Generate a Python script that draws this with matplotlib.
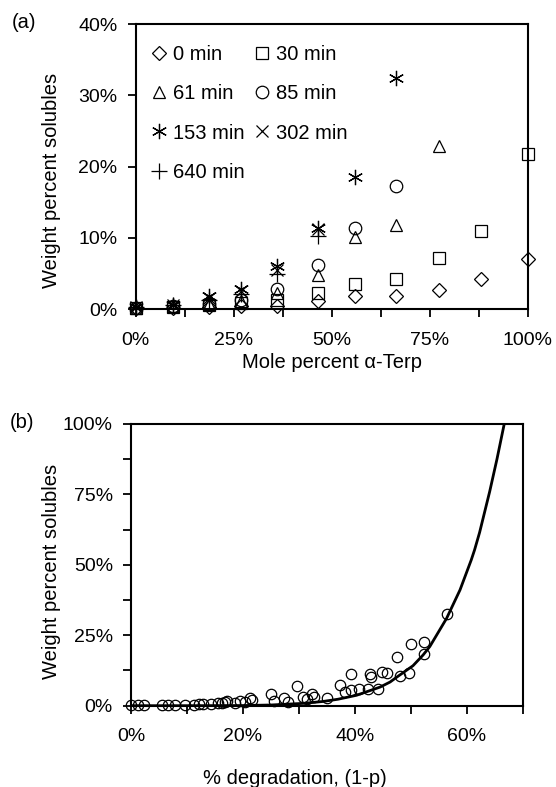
import numpy as np
import matplotlib
matplotlib.use('Agg')
import matplotlib.pyplot as plt

plt.rcParams['font.family'] = ['Liberation Sans', 'DejaVu Sans']
plt.rcParams['font.size'] = 14

# panel (a): weight percent solubles vs mole percent a-Terp, one series per time
terp = [0, 9.6, 18.8, 27.0, 36.0, 46.4, 56.0, 66.3, 77.3, 88.0, 100]
sol_0 = [0.2, 0.2, 0.3, 0.4, 0.5, 1.1, 1.9, 1.8, 2.7, 4.2, 7.05]
sol_30 = [0.2, 0.3, 0.6, 0.9, 1.3, 2.3, 3.5, 4.3, 7.2, 11.0, 21.8]
sol_61 = [0.2, 0.4, 0.7, 1.2, 2.3, 4.8, 10.1, 11.8, 22.9]
sol_85 = [0.2, 0.4, 0.8, 1.3, 2.9, 6.2, 11.4, 17.3]
sol_153 = [0.3, 0.6, 1.8, 2.9, 6.1, 11.4, 18.5, 32.4]
sol_302 = [0.3, 0.6, 1.6, 2.5, 5.5, 11.2]
sol_640 = [0.3, 0.6, 1.3, 2.2, 5.0, 10.3]

# panel (b): all points vs degradation, plus the fitted curve
deg = [0, 1.2, 2.4, 5.6, 6.6, 7.9, 9.6, 11.3, 12.1, 12.9, 14.3, 15.6, 16.2, 16.8, 17.1,
       18.6, 19.5, 20.4, 21.2, 21.6, 25.1, 25.5, 27.4, 28.1, 29.6, 30.8, 31.4, 32.3,
       32.7, 35.1, 37.3, 38.3, 39.3, 39.4, 40.8, 42.4, 42.7, 42.9, 44.2, 44.9, 45.8,
       47.6, 48.0, 49.7, 50.0, 52.4, 52.4, 56.4]
sol_all = [0.3, 0.3, 0.3, 0.3, 0.3, 0.3, 0.4, 0.4, 0.5, 0.6, 0.5, 0.8, 1.0, 1.2, 1.8,
           1.0, 1.8, 1.2, 2.6, 2.0, 4.2, 1.6, 2.6, 1.2, 7.1, 3.2, 2.4, 4.2,
           3.2, 2.9, 7.2, 4.9, 11.1, 5.7, 6.1, 6.1, 11.1, 10.3, 5.9, 12.0, 11.7,
           17.4, 10.6, 11.5, 21.8, 22.7, 18.3, 32.4]
curve_x = [0, 10, 20, 25, 31, 34.3, 37, 40.3, 44.5, 46.3, 47.4, 50.4, 52.2, 53.4, 56.4,
           58.8, 60.8, 61.4, 62.3, 64.1, 65.4, 66.7]
curve_y = [0, 0, 0.05, 0.25, 0.85, 1.5, 2.3, 3.7, 6.6, 8.4, 10.0, 14.2, 18.0, 21.0, 31.0,
           41.1, 51.7, 55.3, 61.5, 76.0, 87.5, 100]

fig = plt.figure(figsize=(5.56, 7.87), dpi=100)
ax1 = fig.add_axes([0.244, 0.607, 0.705, 0.3625])
ax2 = fig.add_axes([0.2356, 0.1033, 0.7045, 0.358])

open_kw = dict(linestyle='none', markerfacecolor='none', markeredgecolor='black',
               color='black', markeredgewidth=0.9, clip_on=False)

h0, = ax1.plot(terp, sol_0, marker='D', markersize=7, label='0 min', **open_kw)
h30, = ax1.plot(terp, sol_30, marker='s', markersize=9, label='30 min', **open_kw)
h61, = ax1.plot(terp[:len(sol_61)], sol_61, marker='^', markersize=9, label='61 min', **open_kw)
h85, = ax1.plot(terp[:len(sol_85)], sol_85, marker='o', markersize=9, label='85 min', **open_kw)
h153, = ax1.plot(terp[:len(sol_153)], sol_153, marker=(6, 2, 0), markersize=11, label='153 min', **open_kw)
h302, = ax1.plot(terp[:len(sol_302)], sol_302, marker='x', markersize=9, label='302 min', **open_kw)
h640, = ax1.plot(terp[:len(sol_640)], sol_640, marker='+', markersize=11, label='640 min', **open_kw)

handles = [h0, h61, h153, h640, h30, h85, h302]
ax1.legend(handles=handles, ncol=2, frameon=False, loc='upper left',
           bbox_to_anchor=(0.0, 0.975), handlelength=0.9, handletextpad=0.25,
           columnspacing=0.4, labelspacing=1.0, borderaxespad=0.3, fontsize=14.5)

ax1.set_xlim(0, 100)
ax1.set_ylim(0, 40)
ax1.set_xticks([0, 25, 50, 75, 100])
ax1.set_xticklabels(['0%', '25%', '50%', '75%', '100%'])
ax1.set_xticks(np.arange(0, 101, 12.5), minor=True)
ax1.set_yticks([0, 10, 20, 30, 40])
ax1.set_yticklabels(['0%', '10%', '20%', '30%', '40%'])
ax1.set_xlabel('Mole percent α-Terp', labelpad=3, fontsize=14.5)

ax2.plot(curve_x, curve_y, color='black', linewidth=2)
ax2.plot(deg, sol_all, marker='o', markersize=7.5, **open_kw)
ax2.set_xlim(0, 70)
ax2.set_ylim(0, 100)
ax2.set_xticks([0, 20, 40, 60])
ax2.set_xticklabels(['0%', '20%', '40%', '60%'])
ax2.set_xticks(np.arange(0, 71, 10), minor=True)
ax2.set_yticks([0, 25, 50, 75, 100])
ax2.set_yticklabels(['0%', '25%', '50%', '75%', '100%'])
ax2.set_yticks(np.arange(0, 101, 12.5), minor=True)

for ax in (ax1, ax2):
    for s in ax.spines.values():
        s.set_linewidth(1.5)
    ax.tick_params(which='both', direction='out', length=6, width=1.3, pad=7,
                   labelsize=14)
    ax.tick_params(axis='x', which='both', pad=10)

fig.text(52 / 556, 1 - 180 / 787, 'Weight percent solubles', rotation=90,
         ha='center', va='center', fontsize=14.5)
fig.text(52 / 556, 1 - 571 / 787, 'Weight percent solubles', rotation=90,
         ha='center', va='center', fontsize=14.5)
fig.text(295 / 556, 1 - 778 / 787, '% degradation, (1-p)', ha='center', va='center',
         fontsize=14.5)
fig.text(12 / 556, 1 - 22 / 787, '(a)', ha='left', va='center', fontsize=14.5)
fig.text(10 / 556, 1 - 422 / 787, '(b)', ha='left', va='center', fontsize=14.5)

fig.savefig('out.png', dpi=100)
